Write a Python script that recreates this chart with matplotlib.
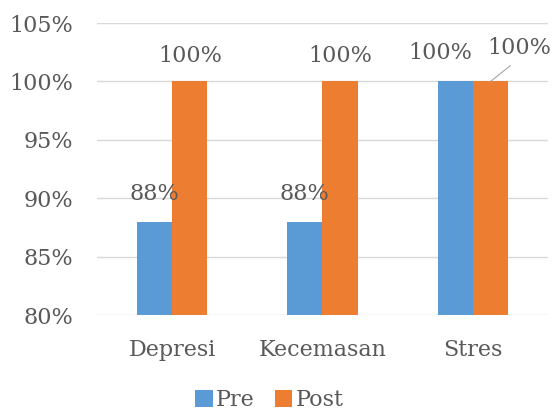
import matplotlib.pyplot as plt
import numpy as np

# Data
categories = ["Depresi", "Kecemasan", "Stres"]
pre = [88, 88, 100]
post = [100, 100, 100]
series_names = ["Pre", "Post"]
y_ticks = [80, 85, 90, 95, 100, 105]

blue = "#5B9BD5"
orange = "#ED7D31"
text_col = "#595959"
fs = 16

plt.rcParams['font.family'] = ['DejaVu Serif']

fig = plt.figure(figsize=(5.53, 4.12), dpi=100)
ax = fig.add_axes([97 / 553, 1 - 315 / 412, 451 / 553, 292 / 412])

x = np.arange(len(categories))
w = 0.235
bars_pre = ax.bar(x - w / 2, pre, w, color=blue, label=series_names[0], zorder=3)
bars_post = ax.bar(x + w / 2, post, w, color=orange, label=series_names[1], zorder=3)

ax.set_ylim(80, 105)
ax.set_xlim(-0.5, 2.5)
ax.set_yticks(y_ticks)
ax.set_yticklabels(["%d%%" % v for v in y_ticks])
ax.set_xticks(x)
ax.set_xticklabels(categories)
ax.tick_params(axis='both', length=0, labelsize=fs, colors=text_col)
ax.tick_params(axis='x', pad=17)
ax.tick_params(axis='y', pad=17)

for s in ax.spines.values():
    s.set_visible(False)
ax.yaxis.grid(True, color="#D9D9D9", linewidth=1, zorder=0)
ax.set_axisbelow(True)

# data labels
for i, v in enumerate(pre):
    if i < 2:
        ax.text(x[i] - w / 2, v + 2.4, "%d%%" % v, ha='center', va='center',
                fontsize=fs, color=text_col)
    else:
        ax.text(x[i] - w / 2 - 0.1, v + 2.4, "%d%%" % v, ha='center', va='center',
                fontsize=fs, color=text_col)
for i, v in enumerate(post):
    if i < 2:
        ax.text(x[i] + w / 2, v + 2.2, "%d%%" % v, ha='center', va='center',
                fontsize=fs, color=text_col)
    else:
        ax.annotate("%d%%" % v, xy=(x[i] + w / 2, v), xytext=(x[i] + 0.31, v + 2.9),
                    ha='center', va='center', fontsize=fs, color=text_col,
                    arrowprops=dict(arrowstyle='-', color="#A6A6A6", lw=0.8,
                                    shrinkA=5, shrinkB=0, relpos=(0.5, 0)))

leg = fig.legend(handles=[bars_pre, bars_post], labels=series_names, loc='center',
                 bbox_to_anchor=(0.487, 1 - 400 / 412), ncol=2, frameon=False,
                 fontsize=fs, handlelength=0.8, handleheight=0.8, handletextpad=0.15,
                 columnspacing=0.9, borderpad=0.2)
for t in leg.get_texts():
    t.set_color(text_col)

fig.savefig("out.png", dpi=100)
